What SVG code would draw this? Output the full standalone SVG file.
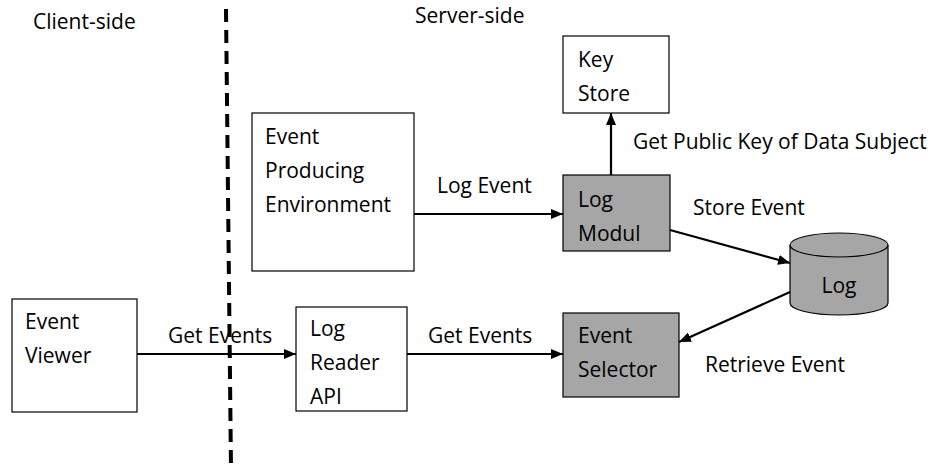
<svg xmlns="http://www.w3.org/2000/svg" width="932" height="469" viewBox="0 0 932 469">
<defs>
<style>
text{font-family:"Open Sans","Noto Sans",sans-serif;font-size:21px;fill:#000}
.box{fill:#fff;stroke:#000;stroke-width:1.2}
.gbox{fill:#a6a6a6;stroke:#000;stroke-width:1.2}
.con{stroke:#000;stroke-width:2.2;fill:none;marker-end:url(#ah)}
</style>
<marker id="ah" viewBox="0 0 12 10" refX="12" refY="5" markerWidth="12" markerHeight="10" markerUnits="userSpaceOnUse" orient="auto">
<path d="M0,0 L12,5 L0,10 Z" fill="#000"/>
</marker>
</defs>
<rect width="932" height="469" fill="#fff"/>
<text x="33" y="29">Client-side</text>
<text x="415" y="23">Server-side</text>
<line x1="226" y1="9" x2="231" y2="469" stroke="#000" stroke-width="4" stroke-dasharray="13,8"/>
<g id="keystore"><rect class="box" x="563" y="36" width="106" height="77"/><text x="578" y="67">Key</text><text x="578" y="101">Store</text></g>
<g id="producer"><rect class="box" x="252" y="113" width="162" height="158"/><text x="265" y="144">Event</text><text x="265" y="178">Producing</text><text x="265" y="212">Environment</text></g>
<g id="logmodul"><rect class="gbox" x="563" y="175" width="107" height="76"/><text x="578" y="207">Log</text><text x="578" y="241">Modul</text></g>
<g id="log"><path d="M790,245 L790,303 A49,12 0 0 0 888,303 L888,245" fill="#a6a6a6" stroke="#000" stroke-width="1.2"/><ellipse cx="839" cy="245" rx="49" ry="12" fill="#a6a6a6" stroke="#000" stroke-width="1.2"/><text x="839" y="293" text-anchor="middle">Log</text></g>
<g id="viewer"><rect class="box" x="12" y="299" width="125" height="113"/><text x="25" y="329">Event</text><text x="25" y="363">Viewer</text></g>
<g id="reader"><rect class="box" x="296" y="307" width="111" height="104"/><text x="310" y="336">Log</text><text x="310" y="370">Reader</text><text x="310" y="404">API</text></g>
<g id="selector"><rect class="gbox" x="563" y="313" width="116" height="84"/><text x="578" y="343">Event</text><text x="578" y="377">Selector</text></g>
<g id="connectors">
<line class="con" x1="414" y1="214" x2="563" y2="214"/>
<line class="con" x1="611" y1="175" x2="611" y2="113"/>
<line class="con" x1="670" y1="230" x2="790" y2="263"/>
<line class="con" x1="790" y1="292" x2="679" y2="342"/>
<line class="con" x1="137" y1="354" x2="296" y2="354"/>
<line class="con" x1="407" y1="354" x2="563" y2="354"/>
<text x="437" y="193">Log Event</text>
<text x="633" y="149">Get Public Key of Data Subject</text>
<text x="693" y="215">Store Event</text>
<text x="705" y="372">Retrieve Event</text>
<text x="168" y="343">Get Events</text>
<text x="428" y="343">Get Events</text>
</g>
</svg>
